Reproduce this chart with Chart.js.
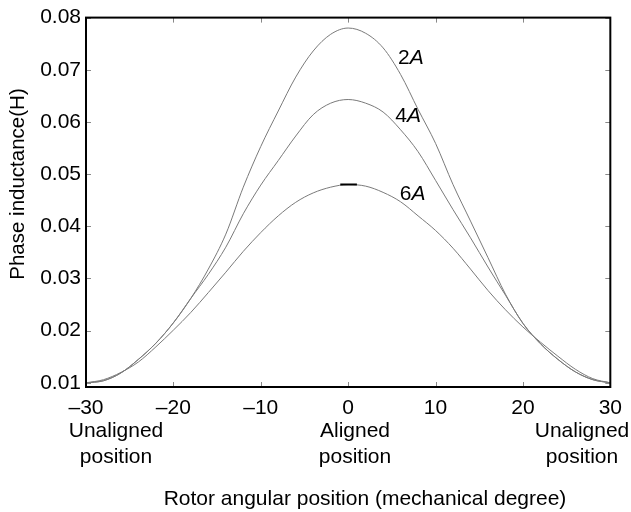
<!DOCTYPE html>
<html>
<head>
<meta charset="utf-8">
<script src="https://cdn.jsdelivr.net/npm/chart.js@4/dist/chart.umd.min.js"></script>
<style>
  body { margin: 0; background: #fff; }
  canvas { display: block; }
</style>
</head>
<body>
<canvas id="grafico" width="631" height="512"></canvas>
<script>
    // Rotor angle (mechanical degree)
    const angulo = [-30, -28, -26, -24, -22, -20, -18, -16, -14, -12, -10, -8, -6, -4, -2, 0,
                    2, 4, 6, 8, 10, 12, 14, 16, 18, 20, 22, 24, 26, 28, 30];

    // Phase inductance (H) for each current
    const ind2A = [0.0100, 0.0104, 0.0119, 0.0145, 0.0176, 0.0215, 0.0262, 0.0318, 0.0385, 0.0475, 0.0553, 0.0621, 0.0686, 0.0736, 0.0768, 0.0780,
                   0.0770, 0.0742, 0.0691, 0.0624, 0.0559, 0.0480, 0.0410, 0.0340, 0.0270, 0.0214, 0.0175, 0.0145, 0.0121, 0.0106, 0.0100];
    const ind4A = [0.0100, 0.0104, 0.0119, 0.0145, 0.0176, 0.0215, 0.0262, 0.0308, 0.0360, 0.0424, 0.0479, 0.0526, 0.0573, 0.0614, 0.0636, 0.0643,
                   0.0636, 0.0619, 0.0585, 0.0543, 0.0488, 0.0432, 0.0378, 0.0322, 0.0268, 0.0214, 0.0175, 0.0145, 0.0121, 0.0106, 0.0100];
    const ind6A = [0.0100, 0.0106, 0.0120, 0.0140, 0.0169, 0.0201, 0.0235, 0.0273, 0.0312, 0.0352, 0.0388, 0.0420, 0.0446, 0.0464, 0.0475, 0.0480,
                   0.0477, 0.0465, 0.0447, 0.0420, 0.0392, 0.0358, 0.0318, 0.0277, 0.0240, 0.0207, 0.0178, 0.0151, 0.0126, 0.0108, 0.0100];

    // short dark mark on top of the 6A curve
    const marcaX = [-0.9, 1.0];
    const marcaY = [0.0480, 0.0480];

    const ticksX = [-30, -20, -10, 0, 10, 20, 30];
    const ticksY = [0.01, 0.02, 0.03, 0.04, 0.05, 0.06, 0.07, 0.08];

    // curve labels: text, x (deg), y (H)
    const rotulos = [
        ['2', 5.7, 0.0712],
        ['4', 5.4, 0.0600],
        ['6', 5.9, 0.0451]
    ];

    const fonte = '"Liberation Sans", Arial, sans-serif';

    function pontos(xs, ys) {
        return xs.map(function(x, i){ return { x: x, y: ys[i] } })
    }

    function curva(ys) {
        return {
            data: pontos(angulo, ys),
            borderColor: '#7a7a7a',
            borderWidth: 1,
            pointRadius: 0,
            cubicInterpolationMode: 'monotone',
            fill: false
        }
    }

    // box, inward ticks and all the extra text
    const extras = {
        id: 'extras',
        afterDraw: function(chart) {
            const ctx = chart.ctx
            const a = chart.chartArea
            const sx = chart.scales.x
            const sy = chart.scales.y
            ctx.save()

            ctx.strokeStyle = '#888'
            ctx.lineWidth = 1
            ctx.beginPath()
            ticksX.forEach(function(v){
                const px = Math.round(sx.getPixelForValue(v)) + 0.5
                ctx.moveTo(px, a.bottom); ctx.lineTo(px, a.bottom - 5)
                ctx.moveTo(px, a.top); ctx.lineTo(px, a.top + 5)
            })
            ticksY.forEach(function(v){
                const py = Math.round(sy.getPixelForValue(v)) + 0.5
                ctx.moveTo(a.left, py); ctx.lineTo(a.left + 5, py)
                ctx.moveTo(a.right, py); ctx.lineTo(a.right - 5, py)
            })
            ctx.stroke()

            ctx.strokeStyle = '#000'
            ctx.lineWidth = 2
            ctx.strokeRect(a.left, a.top, a.right - a.left, a.bottom - a.top)

            ctx.fillStyle = '#000'
            ctx.textBaseline = 'alphabetic'

            // curve labels with italic A
            rotulos.forEach(function(r){
                const px = sx.getPixelForValue(r[1])
                const py = sy.getPixelForValue(r[2])
                ctx.textAlign = 'left'
                ctx.font = '21px ' + fonte
                ctx.fillText(r[0], px, py)
                const w = ctx.measureText(r[0]).width
                ctx.font = 'italic 21px ' + fonte
                ctx.fillText('A', px + w, py)
            })

            // position notes under the x axis
            ctx.font = '21px ' + fonte
            ctx.textAlign = 'center'
            const notas = [[116, 'Unaligned'], [355, 'Aligned'], [582, 'Unaligned']]
            notas.forEach(function(n){
                ctx.fillText(n[1], n[0], 437)
                ctx.fillText('position', n[0], 463)
            })

            // axis titles
            ctx.fillText('Rotor angular position (mechanical degree)', 365, 505)
            ctx.font = '20.5px ' + fonte
            ctx.translate(24, 184)
            ctx.rotate(-Math.PI / 2)
            ctx.fillText('Phase inductance(H)', 0, 0)

            ctx.restore()
        }
    }

    const config = {
        type: 'line',
        data: {
            datasets: [
                curva(ind2A),
                curva(ind4A),
                curva(ind6A),
                {
                    data: pontos(marcaX, marcaY),
                    borderColor: '#000',
                    borderWidth: 2,
                    pointRadius: 0,
                    order: -1
                }
            ]
        },
        options: {
            responsive: false,
            animation: false,
            layout: { padding: { top: 6, right: 17, left: 0, bottom: 0 } },
            plugins: {
                legend: { display: false },
                tooltip: { enabled: false }
            },
            scales: {
                x: {
                    type: 'linear',
                    min: -30,
                    max: 30,
                    grid: { display: false, drawTicks: false },
                    border: { display: false },
                    afterFit: function(s){ s.height = 125 },
                    afterBuildTicks: function(s){ s.ticks = ticksX.map(function(v){ return { value: v } }) },
                    ticks: {
                        padding: 9,
                        color: '#000',
                        font: { family: fonte, size: 21 },
                        maxRotation: 0,
                        callback: function(v){ return v < 0 ? '\u2013' + Math.abs(v) : String(v) }
                    }
                },
                y: {
                    min: 0.0092,
                    max: 0.08,
                    grid: { display: false, drawTicks: false },
                    border: { display: false },
                    afterFit: function(s){ s.width = 86 },
                    afterBuildTicks: function(s){ s.ticks = ticksY.map(function(v){ return { value: v } }) },
                    ticks: {
                        padding: 5,
                        color: '#000',
                        font: { family: fonte, size: 21 },
                        callback: function(v){ return v.toFixed(2) }
                    }
                }
            }
        },
        plugins: [extras]
    };

    const myChart = new Chart(document.getElementById('grafico'), config);
</script>
</body>
</html>
